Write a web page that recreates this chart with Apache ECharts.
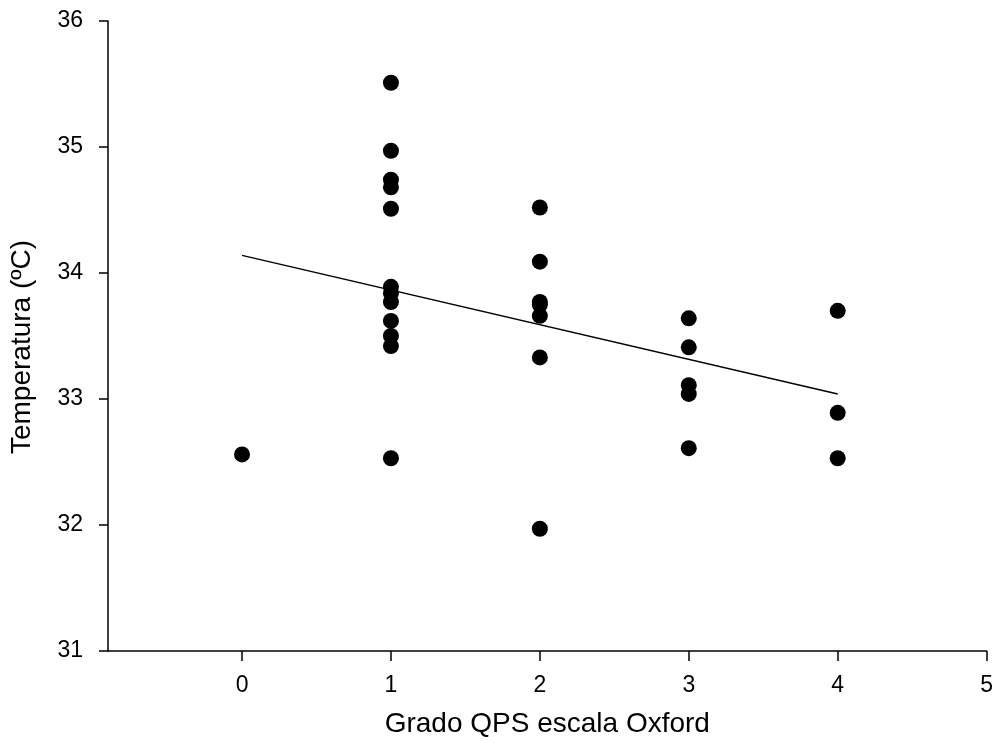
<!DOCTYPE html>
<html>
<head>
<meta charset="utf-8">
<script src="https://cdn.jsdelivr.net/npm/echarts@6/dist/echarts.min.js"></script>
<style>
html,body{margin:0;padding:0;background:#fff;}
#c{width:996px;height:743px;}
</style>
</head>
<body>
<div id="c"></div>
<script>
// Temperatures (ºC) by QPS grade (Oxford scale)
const temps0 = [32.56];
const temps1 = [35.51, 34.97, 34.74, 34.68, 34.51, 33.89, 33.84, 33.77, 33.62, 33.50, 33.42, 32.53];
const temps2 = [34.52, 34.09, 33.77, 33.75, 33.66, 33.33, 31.97];
const temps3 = [33.64, 33.41, 33.11, 33.04, 32.61];
const temps4 = [33.70, 32.89, 32.53];
const grades = [0, 1, 2, 3, 4];
const tempsByGrade = [temps0, temps1, temps2, temps3, temps4];
// Regression line endpoints
const trendX = [0, 4];
const trendY = [34.14, 33.04];
// Tick labels
const xTicks = [0, 1, 2, 3, 4, 5];
const yTicks = [31, 32, 33, 34, 35, 36];

const points = [];
grades.forEach((g, i) => tempsByGrade[i].forEach(t => points.push([g, t])));
const trend = trendX.map((x, i) => [x, trendY[i]]);

const font = 'Liberation Sans, Arial, sans-serif';
const chart = echarts.init(document.getElementById('c'));
chart.setOption({
  animation: false,
  backgroundColor: '#fff',
  grid: { left: 108, right: 8, top: 21, bottom: 87, containLabel: false },
  xAxis: {
    type: 'value', min: -0.9, max: 5,
    name: 'Grado QPS escala Oxford', nameLocation: 'middle', nameGap: 59,
    nameTextStyle: { fontFamily: font, fontSize: 28, color: '#000' },
    axisLine: { show: true, onZero: false, lineStyle: { color: '#000', width: 1.5 } },
    axisTick: { show: true, customValues: xTicks, length: 10, lineStyle: { color: '#000', width: 1.5 } },
    axisLabel: { customValues: xTicks, margin: 23, fontFamily: font, fontSize: 23, color: '#000' },
    splitLine: { show: false }
  },
  yAxis: {
    type: 'value', min: 31, max: 36, interval: 1,
    name: 'Temperatura (ºC)', nameLocation: 'middle', nameGap: 72, nameRotate: 90,
    nameTextStyle: { fontFamily: font, fontSize: 28, color: '#000', padding: [0, 22, 0, 0] },
    axisLine: { show: true, onZero: false, lineStyle: { color: '#000', width: 1.5 } },
    axisTick: { show: true, length: 9, lineStyle: { color: '#000', width: 1.5 } },
    axisLabel: { customValues: yTicks, margin: 25, fontFamily: font, fontSize: 23, color: '#000' },
    splitLine: { show: false }
  },
  series: [
    {
      type: 'line', data: trend, showSymbol: false, symbol: 'none',
      lineStyle: { color: '#000', width: 1.5 }, z: 3
    },
    {
      type: 'scatter', data: points, symbol: 'circle', symbolSize: 16,
      itemStyle: { color: '#000', opacity: 1 }, z: 4
    }
  ]
});
</script>
</body>
</html>
